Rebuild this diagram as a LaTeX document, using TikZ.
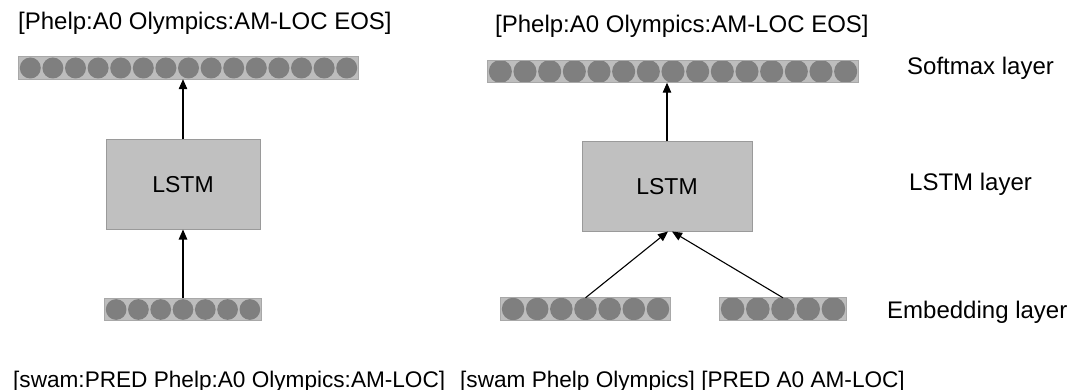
\documentclass[tikz,border=0pt]{standalone}
\usepackage{fontspec}
\setmainfont{Liberation Sans}
\usetikzlibrary{arrows.meta}
\definecolor{barlight}{HTML}{BDBDBD}
\definecolor{bardark}{HTML}{7F7F7F}
\definecolor{barline}{HTML}{A8A8A8}
\definecolor{lstmfill}{HTML}{C0C0C0}
\definecolor{lstmline}{HTML}{9A9A9A}
\tikzset{
  barbox/.style={rectangle, inner sep=0pt, minimum height=22pt, fill=barlight, draw=none},
  lstmbox/.style={rectangle, inner sep=0pt, fill=lstmfill, draw=lstmline, line width=1pt,
    minimum height=89pt, font=\fontsize{23}{27}\selectfont},
  lbl/.style={inner sep=0pt, anchor=base west, font=\fontsize{24}{28}\selectfont},
  seq/.style={inner sep=0pt, anchor=base west, font=\fontsize{22.6}{26}\selectfont},
  arr/.style={line width=1.1pt, -{Triangle[length=10pt,width=8.5pt]}}
}
\newcommand\embbar[5]{%
  \pgfmathsetmacro\bw{#3-#2}%
  \pgfmathsetmacro\bc{(#2+#3)/2}%
  \pgfmathsetmacro\bs{(#3-#2)/#5}%
  \pgfmathsetmacro\br{\bs/2-0.8}%
  \node[barbox, minimum width=\bw pt] (#1) at (\bc,#4) {};
  \begin{scope}
    \clip (#1.south west) rectangle (#1.north east);
    \foreach \k in {1,...,#5} {\fill[bardark] ({#2+(\k-0.5)*\bs},#4) circle[radius=\br pt];}
  \end{scope}
  \draw[barline, line width=0.8pt] (#1.south west) rectangle (#1.north east);
}
\begin{document}
\begin{tikzpicture}[x=1pt,y=-1pt]
\fill[white] (0,0) rectangle (1073,390);
\useasboundingbox (0,0) rectangle (1073,390);

\embbar{topL}{19}{358}{68}{15}
\embbar{topR}{488}{858}{71.5}{15}
\embbar{botL}{105}{261}{309.5}{7}
\embbar{botRa}{501}{670}{309}{7}
\embbar{botRb}{720}{846}{309}{5}

\node[lstmbox, minimum width=154pt] (lstmL) at (183,184.5) {LSTM};
\node[lstmbox, minimum width=170pt] (lstmR) at (667,186.5) {LSTM};

\draw[arr] (botL.north -| lstmL.south) -- (lstmL.south);
\draw[arr] (lstmL.north) -- (lstmL.north |- topL.south);
\draw[arr] (lstmR.north) -- (lstmR.north |- topR.south);
\draw[arr] (botRa.north) -- ([xshift=1pt]lstmR.south);
\draw[arr] (botRb.north) -- ([xshift=5pt]lstmR.south);

\node[lbl] (outL) at (18,30) {[Phelp:A0 Olympics:AM-LOC EOS]};
\node[lbl] (outR) at (495,33) {[Phelp:A0 Olympics:AM-LOC EOS]};
\node[lbl] (softlbl) at (907,75) {Softmax layer};
\node[lbl] (lstmlbl) at (909,190) {LSTM layer};
\node[lbl] (emblbl) at (887,318) {Embedding layer};
\node[seq] (inL) at (13,387) {[swam:PRED Phelp:A0 Olympics:AM-LOC]};
\node[seq] (inR) at (460,387) {[swam Phelp Olympics] [PRED A0 AM-LOC]};
\end{tikzpicture}
\end{document}
